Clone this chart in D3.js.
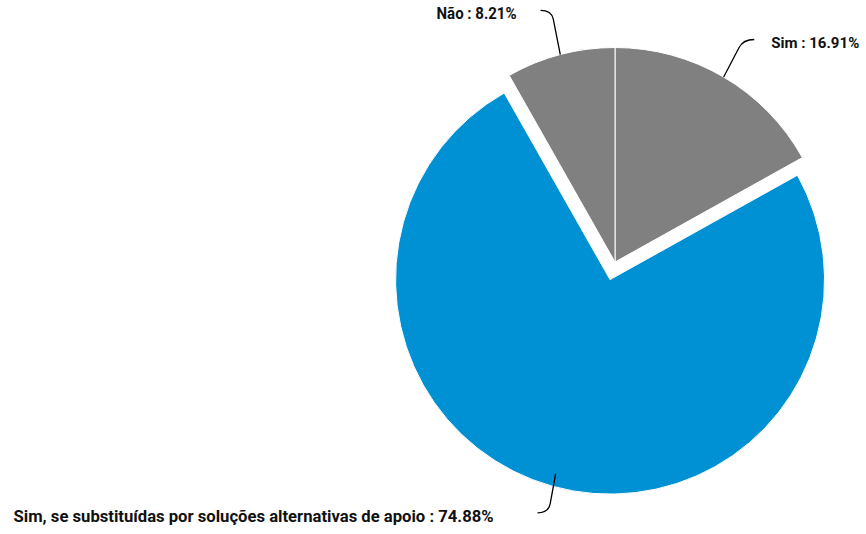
<!DOCTYPE html>
<html>
<head>
<meta charset="utf-8">
<script src="https://cdn.jsdelivr.net/npm/d3@7"></script>
<style>
  html, body { margin: 0; padding: 0; background: #fff; }
  text { font-family: Roboto, "Open Sans", sans-serif; font-weight: bold; fill: #111; }
</style>
</head>
<body>
<div id="chart"></div>
<script>
// answer categories and their shares (%)
var categories = ["Sim", "Sim, se substituídas por soluções alternativas de apoio", "Não"];
var shares = [16.91, 74.88, 8.21];
var colors = ["#808080", "#0090d4", "#808080"];
var exploded = [false, true, false];

// label layout: small angle nudge (deg), gap between connector end and text, text width
var labelNudge = [1.6, 1.5, -1.7];
var labelGap = [17, 44, 24];
var labelWidth = [88, 480, 80];

var width = 866, height = 534,
    cx = 615, cy = 262,
    radius = 214.5,
    explodeBy = 18.3,
    labelRadius = radius + 48;

var svg = d3.select("#chart").append("svg")
  .attr("width", width)
  .attr("height", height);

var pie = d3.pie().sort(null).value(function (d) { return d; });
var arcs = pie(shares);
var arc = d3.arc().innerRadius(0).outerRadius(radius);

function polar(a, r) {
  return [Math.sin(a) * r, -Math.cos(a) * r];
}

arcs.forEach(function (d, i) {
  d.mid = (d.startAngle + d.endAngle) / 2;
  var off = exploded[i] ? polar(d.mid, explodeBy) : [0, 0];
  d.cx = cx + off[0];
  d.cy = cy + off[1];
});

svg.selectAll("path.slice")
  .data(arcs).enter().append("path")
  .attr("class", "slice")
  .attr("transform", function (d) { return "translate(" + d.cx + "," + d.cy + ")"; })
  .attr("d", arc)
  .attr("fill", function (d, i) { return colors[i]; })
  .attr("stroke", "#fff")
  .attr("stroke-width", 1);

// connectors
arcs.forEach(function (d, i) {
  var startR = exploded[i] ? radius - 13 : radius;
  var s = polar(d.mid, startR);
  var S = [d.cx + s[0], d.cy + s[1]];
  var e = polar(d.mid + labelNudge[i] * Math.PI / 180, labelRadius);
  var E = [cx + e[0], cy + e[1]];
  var side = Math.sin(d.mid) >= 0 ? 1 : -1;
  var C = [E[0] - side * 11, E[1]];
  var len = Math.hypot(C[0] - S[0], C[1] - S[1]);
  var t = Math.max(0, (len - 9) / len);
  var A = [S[0] + (C[0] - S[0]) * t, S[1] + (C[1] - S[1]) * t];
  d.E = E;
  d.side = side;

  svg.append("path")
    .attr("d", "M" + S + "L" + A + "Q" + C + " " + E)
    .attr("fill", "none")
    .attr("stroke", "#000")
    .attr("stroke-width", 1.3);
});

// labels are anchored at their outer end so they never spill past the edge
svg.selectAll("text.label")
  .data(arcs).enter().append("text")
  .attr("class", "label")
  .attr("x", function (d, i) {
    var inner = d.E[0] + d.side * labelGap[i];
    return d.side > 0 ? inner + labelWidth[i] : inner;
  })
  .attr("y", function (d) { return d.E[1] + 9; })
  .attr("text-anchor", "end")
  .attr("font-size", function (d) { return d.side > 0 ? 15.5 : 16.5; })
  .attr("textLength", function (d, i) { return labelWidth[i]; })
  .attr("lengthAdjust", "spacingAndGlyphs")
  .text(function (d, i) { return categories[i] + " : " + shares[i].toFixed(2) + "%"; });
</script>
</body>
</html>
